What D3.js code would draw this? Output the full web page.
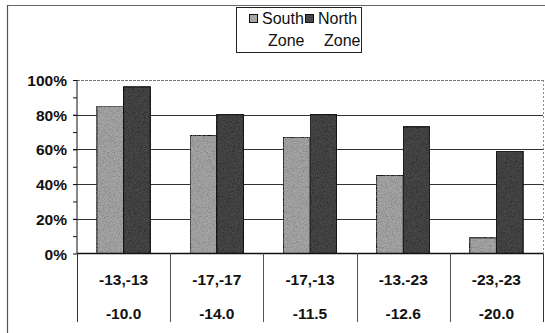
<!DOCTYPE html>
<html>
<head>
<meta charset="utf-8">
<script src="https://cdn.jsdelivr.net/npm/d3@7/dist/d3.min.js"></script>
<style>
  html, body { margin: 0; padding: 0; background: #fff; }
  svg { display: block; }
  text { font-family: "Liberation Sans", Arial, sans-serif; fill: #111; }
</style>
</head>
<body>
<svg id="chart" width="545" height="333"></svg>
<script>
// Category labels: two rows under each group
const categories = ["-13,-13", "-17,-17", "-17,-13", "-13.-23", "-23,-23"];
const subLabels = ["-10.0", "-14.0", "-11.5", "-12.6", "-20.0"];
const seriesNames = ["South Zone", "North Zone"];
const southValues = [85, 68, 67, 45, 9];
const northValues = [96, 80, 80, 73, 59];
const yTicks = [0, 20, 40, 60, 80, 100];
const yMinorTicks = [10, 30, 50, 70, 90];

const svg = d3.select("#chart");
const W = 545, H = 333;

const plot = { left: 77, right: 543, top: 80, bottom: 253.5 };

const x0 = d3.scaleBand().domain(categories).range([plot.left, plot.right]).paddingInner(0).paddingOuter(0);
const x1 = d3.scaleBand().domain(seriesNames).range([0, x0.bandwidth()]).paddingInner(0).paddingOuter(0.75);
const y = d3.scaleLinear().domain([0, 100]).range([plot.bottom, plot.top]);

const fills = { "South Zone": "#a6a6a6", "North Zone": "#474747" };

// speckled textures for bars
const defs = svg.append("defs");
function speckle(id, dark) {
  const f = defs.append("filter").attr("id", id).attr("x", 0).attr("y", 0).attr("width", 1).attr("height", 1);
  f.append("feTurbulence").attr("type", "fractalNoise").attr("baseFrequency", 1.2).attr("numOctaves", 1).attr("seed", 3).attr("result", "n");
  f.append("feColorMatrix").attr("in", "n").attr("type", "matrix")
    .attr("values", "0 0 0 0 0  0 0 0 0 0  0 0 0 0 0  0 0 0 -2.2 1.3").attr("result", "a");
  f.append("feFlood").attr("flood-color", dark).attr("result", "d");
  f.append("feComposite").attr("in", "d").attr("in2", "a").attr("operator", "in").attr("result", "dots");
  f.append("feComposite").attr("in", "dots").attr("in2", "SourceGraphic").attr("operator", "atop").attr("result", "dd");
  const m = f.append("feMerge");
  m.append("feMergeNode").attr("in", "SourceGraphic");
  m.append("feMergeNode").attr("in", "dd");
}
speckle("spS", "#777");
speckle("spN", "#1e1e1e");

// outer frame (top and left edges)
svg.append("line").attr("x1", 7).attr("x2", W).attr("y1", 5.5).attr("y2", 5.5)
  .attr("stroke", "#666").attr("stroke-width", 1.2);
svg.append("line").attr("x1", 7.5).attr("x2", 7.5).attr("y1", 5).attr("y2", H)
  .attr("stroke", "#555").attr("stroke-width", 1.2);

// gridlines
svg.append("g").selectAll("line").data(yTicks.filter(d => d > 0)).join("line")
  .attr("x1", plot.left - 4).attr("x2", plot.right)
  .attr("y1", d => Math.round(y(d)) + 0.5).attr("y2", d => Math.round(y(d)) + 0.5)
  .attr("stroke", d => d === 100 ? "#777" : "#333").attr("stroke-width", 1)
  .attr("stroke-dasharray", d => d === 100 ? "3,1" : null);

// right plot edge
svg.append("line").attr("x1", plot.right + 0.5).attr("x2", plot.right + 0.5)
  .attr("y1", plot.top).attr("y2", plot.bottom)
  .attr("stroke", "#888").attr("stroke-dasharray", "2,2");

// bars
const groups = svg.append("g").selectAll("g").data(categories).join("g")
  .attr("transform", d => `translate(${x0(d)},0)`);
groups.selectAll("rect").data((d, i) => [
    { s: "South Zone", v: southValues[i] },
    { s: "North Zone", v: northValues[i] }
  ]).join("rect")
  .attr("x", d => x1(d.s))
  .attr("y", d => y(d.v))
  .attr("width", x1.bandwidth())
  .attr("height", d => y(0) - y(d.v))
  .attr("fill", d => fills[d.s])
  .attr("filter", d => d.s === "South Zone" ? "url(#spS)" : "url(#spN)")
  .attr("stroke", "#111").attr("stroke-width", 1);

// y axis
const yAxis = d3.axisLeft(y).tickValues(yTicks).tickSize(4).tickFormat(d => d + "%");
const ya = svg.append("g").attr("transform", `translate(${plot.left},0)`).call(yAxis);
ya.select(".domain").attr("stroke", "#111").attr("d", `M-0,${plot.top}V${plot.bottom}`);
ya.selectAll(".tick line").attr("stroke", "#111");
ya.selectAll(".tick text").attr("x", -10).attr("dy", "0.36em")
  .style("font-size", "15.5px").style("font-weight", "bold").attr("fill", "#111");
svg.append("g").attr("transform", `translate(${plot.left},0)`)
  .call(d3.axisLeft(y).tickValues(yMinorTicks).tickSize(4).tickFormat(""))
  .call(g => g.select(".domain").remove())
  .selectAll(".tick line").attr("stroke", "#111");

// x axis baseline and category table
svg.append("line").attr("x1", plot.left).attr("x2", plot.right)
  .attr("y1", plot.bottom).attr("y2", plot.bottom).attr("stroke", "#111").attr("stroke-width", 1.3);
const tableBottom = 322;
const dividers = categories.map(c => x0(c)).concat([plot.right]);
svg.append("g").selectAll("line").data(dividers).join("line")
  .attr("x1", d => Math.round(d) + 0.5).attr("x2", d => Math.round(d) + 0.5)
  .attr("y1", plot.bottom).attr("y2", tableBottom)
  .attr("stroke", (d, i) => i === 0 || i === dividers.length - 1 ? "#333" : "#555");

const lab = svg.append("g").selectAll("g").data(categories).join("g")
  .attr("transform", d => `translate(${x0(d) + x0.bandwidth() / 2},0)`);
lab.append("text").attr("y", 279).attr("text-anchor", "middle").attr("dy", "0.36em")
  .style("font-size", "15.5px").style("font-weight", "bold").text(d => d);
lab.append("text").attr("y", 313).attr("text-anchor", "middle").attr("dy", "0.36em")
  .style("font-size", "15.5px").style("font-weight", "bold").text((d, i) => subLabels[i]);

// legend
const lg = svg.append("g");
lg.append("rect").attr("x", 236.5).attr("y", 7.5).attr("width", 125).attr("height", 45)
  .attr("fill", "#fff").attr("stroke", "#222").attr("stroke-width", 1);
const legendItems = seriesNames.map((s, i) => ({ s, x: 249 + i * 56 }));
legendItems.forEach(it => {
  lg.append("rect").attr("x", it.x + 0.5).attr("y", 14.5).attr("width", 8).attr("height", 8)
    .attr("fill", fills[it.s]).attr("stroke", "#111");
  const words = it.s.split(" ");
  lg.append("text").attr("x", it.x + 13).attr("y", 24).style("font-size", "16px").text(words[0]);
  lg.append("text").attr("x", it.x + 19).attr("y", 46).style("font-size", "16px").text(words[1]);
});
</script>
</body>
</html>
